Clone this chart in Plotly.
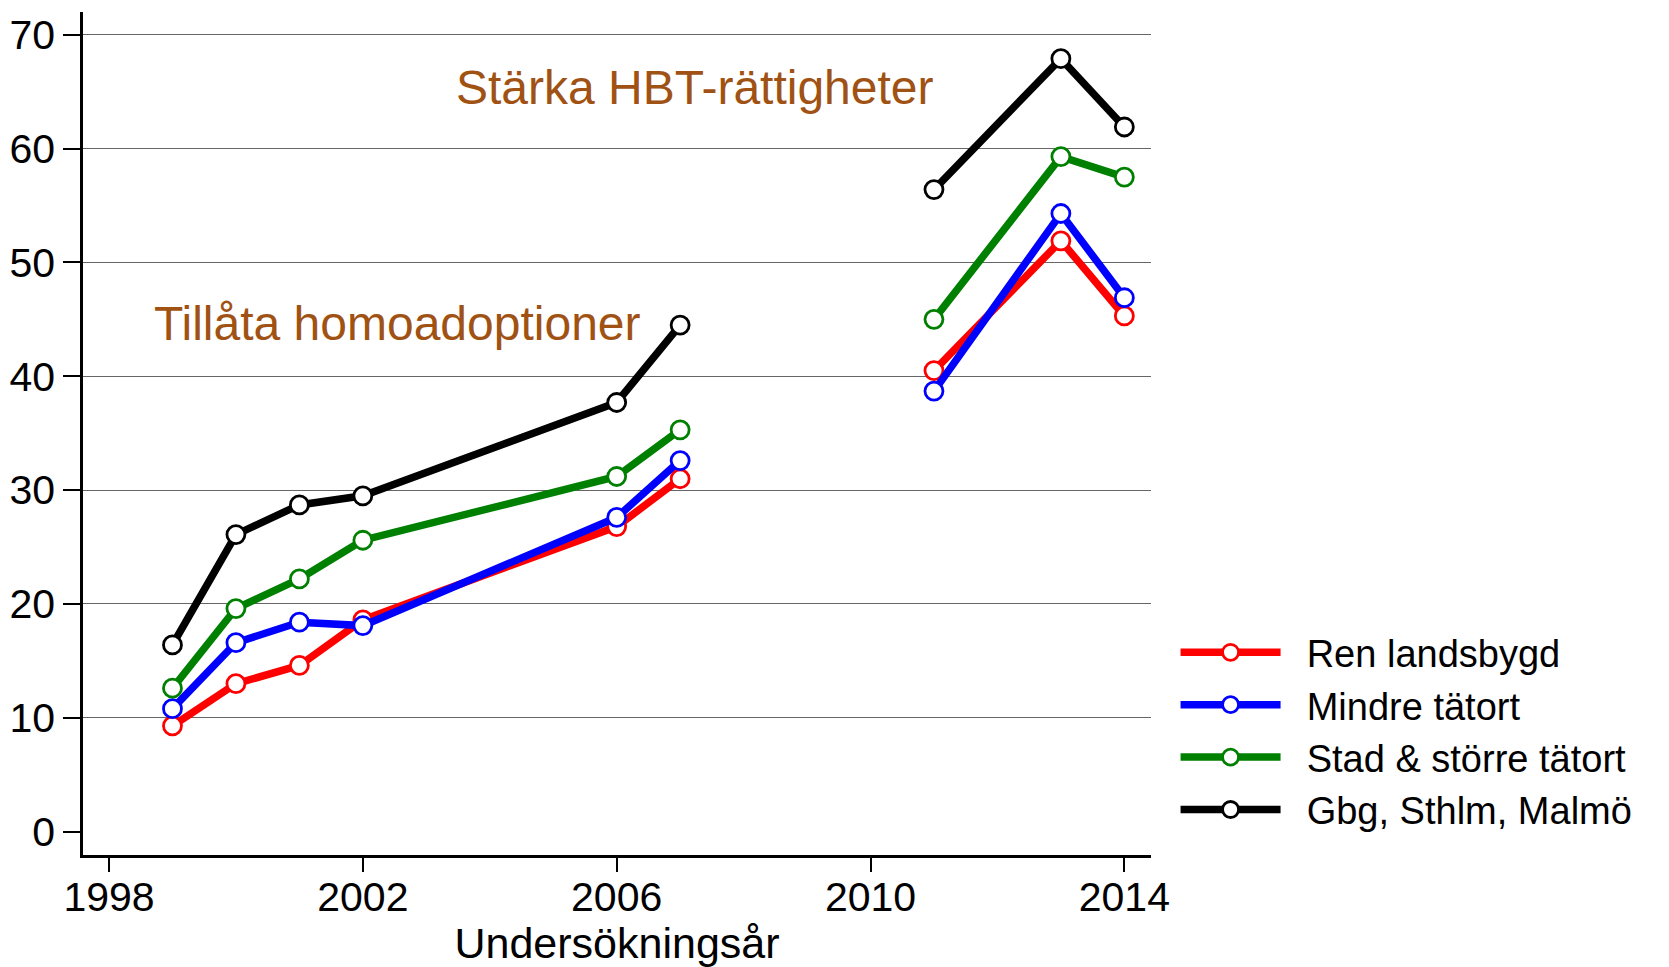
import plotly.graph_objects as go

# ---- data ----
years = [1999, 2000, 2001, 2002, 2006, 2007, 2011, 2013, 2014]
question = [1, 1, 1, 1, 1, 1, 2, 2, 2]  # survey question wording (line breaks between)
ren_landsbygd = [9.3, 13.0, 14.6, 18.6, 26.8, 31.0, 40.5, 51.9, 45.3]
mindre_tatort = [10.8, 16.6, 18.4, 18.1, 27.6, 32.6, 38.7, 54.3, 46.9]
stad_storre = [12.6, 19.6, 22.2, 25.6, 31.2, 35.3, 45.0, 59.3, 57.5]
gbg_sthlm_malmo = [16.4, 26.1, 28.7, 29.5, 37.7, 44.5, 56.4, 67.9, 61.9]

series_names = ["Ren landsbygd", "Mindre tätort", "Stad & större tätort", "Gbg, Sthlm, Malmö"]
series_values = [ren_landsbygd, mindre_tatort, stad_storre, gbg_sthlm_malmo]
series_colors = ["#FF0000", "#0000FF", "#008000", "#000000"]

x_ticks = [1998, 2002, 2006, 2010, 2014]
y_ticks = [0, 10, 20, 30, 40, 50, 60, 70]
grid_ticks = [10, 20, 30, 40, 50, 60, 70]

annot_texts = ["Tillåta homoadoptioner", "Stärka HBT-rättigheter"]
annot_x = [2002.55, 2007.23]
annot_y = [44.6, 65.4]

x_title = "Undersökningsår"


def with_breaks(xs, ys, groups):
    ox, oy = [], []
    for i, (a, b) in enumerate(zip(xs, ys)):
        if i > 0 and groups[i] != groups[i - 1]:
            ox.append(None)
            oy.append(None)
        ox.append(a)
        oy.append(b)
    return ox, oy


FONT = "Liberation Sans, Arial, sans-serif"
NBSP = "\u00a0"
BODY = 8  # default page body margin offsets the figure

fig = go.Figure()
for name, vals, col in zip(series_names, series_values, series_colors):
    gx, gy = with_breaks(years, vals, question)
    fig.add_trace(go.Scatter(
        x=gx, y=gy, name=NBSP * 2 + name, mode="lines+markers",
        line=dict(color=col, width=7.5),
        marker=dict(symbol="circle", size=18, color="white",
                    line=dict(color=col, width=2.8)),
        connectgaps=False,
    ))

# dummy trace to carry gridline axis
fig.add_trace(go.Scatter(x=[None], y=[None], yaxis="y2", showlegend=False,
                         hoverinfo="skip"))

for t, ax, ay in zip(annot_texts, annot_x, annot_y):
    fig.add_annotation(x=ax, y=ay, text=t, showarrow=False,
                       xanchor="center", yanchor="middle",
                       font=dict(family=FONT, size=48, color="rgb(160,82,20)"))

YR = [-2.05, 72.0]
fig.update_layout(
    width=1669 - BODY, height=967 - BODY,
    margin=dict(l=83 - BODY, r=518, t=12 - BODY, b=112),
    paper_bgcolor="white", plot_bgcolor="white",
    font=dict(family=FONT, color="black"),
    xaxis=dict(
        range=[1997.59, 2014.42], tickvals=x_ticks, ticks="outside",
        ticklen=14, tickwidth=2, tickcolor="black",
        showline=True, linecolor="black", linewidth=2.5,
        showgrid=False, zeroline=False, automargin=False,
        ticklabelstandoff=-10,
        tickfont=dict(size=41, family=FONT, color="black"),
        title=dict(text=x_title, font=dict(size=43, family=FONT, color="black"),
                   standoff=12),
    ),
    yaxis=dict(
        range=YR, tickvals=y_ticks, ticks="outside",
        ticklen=17, tickwidth=2, tickcolor="black",
        showline=True, linecolor="black", linewidth=2.5,
        showgrid=False, zeroline=False, automargin=False,
        tickfont=dict(size=41, family=FONT, color="black"),
    ),
    yaxis2=dict(
        range=YR, overlaying="y", anchor="x", tickvals=grid_ticks,
        showgrid=True, gridcolor="#666666", gridwidth=1.2,
        showticklabels=False, ticks="", showline=False, zeroline=False,
        automargin=False,
    ),
    legend=dict(
        x=1.023, xanchor="left", y=0.147, yanchor="middle",
        font=dict(size=38, family=FONT, color="black"),
        itemwidth=100, tracegroupgap=0, bgcolor="rgba(0,0,0,0)",
    ),
    showlegend=True,
)

fig.write_html("out.html")
